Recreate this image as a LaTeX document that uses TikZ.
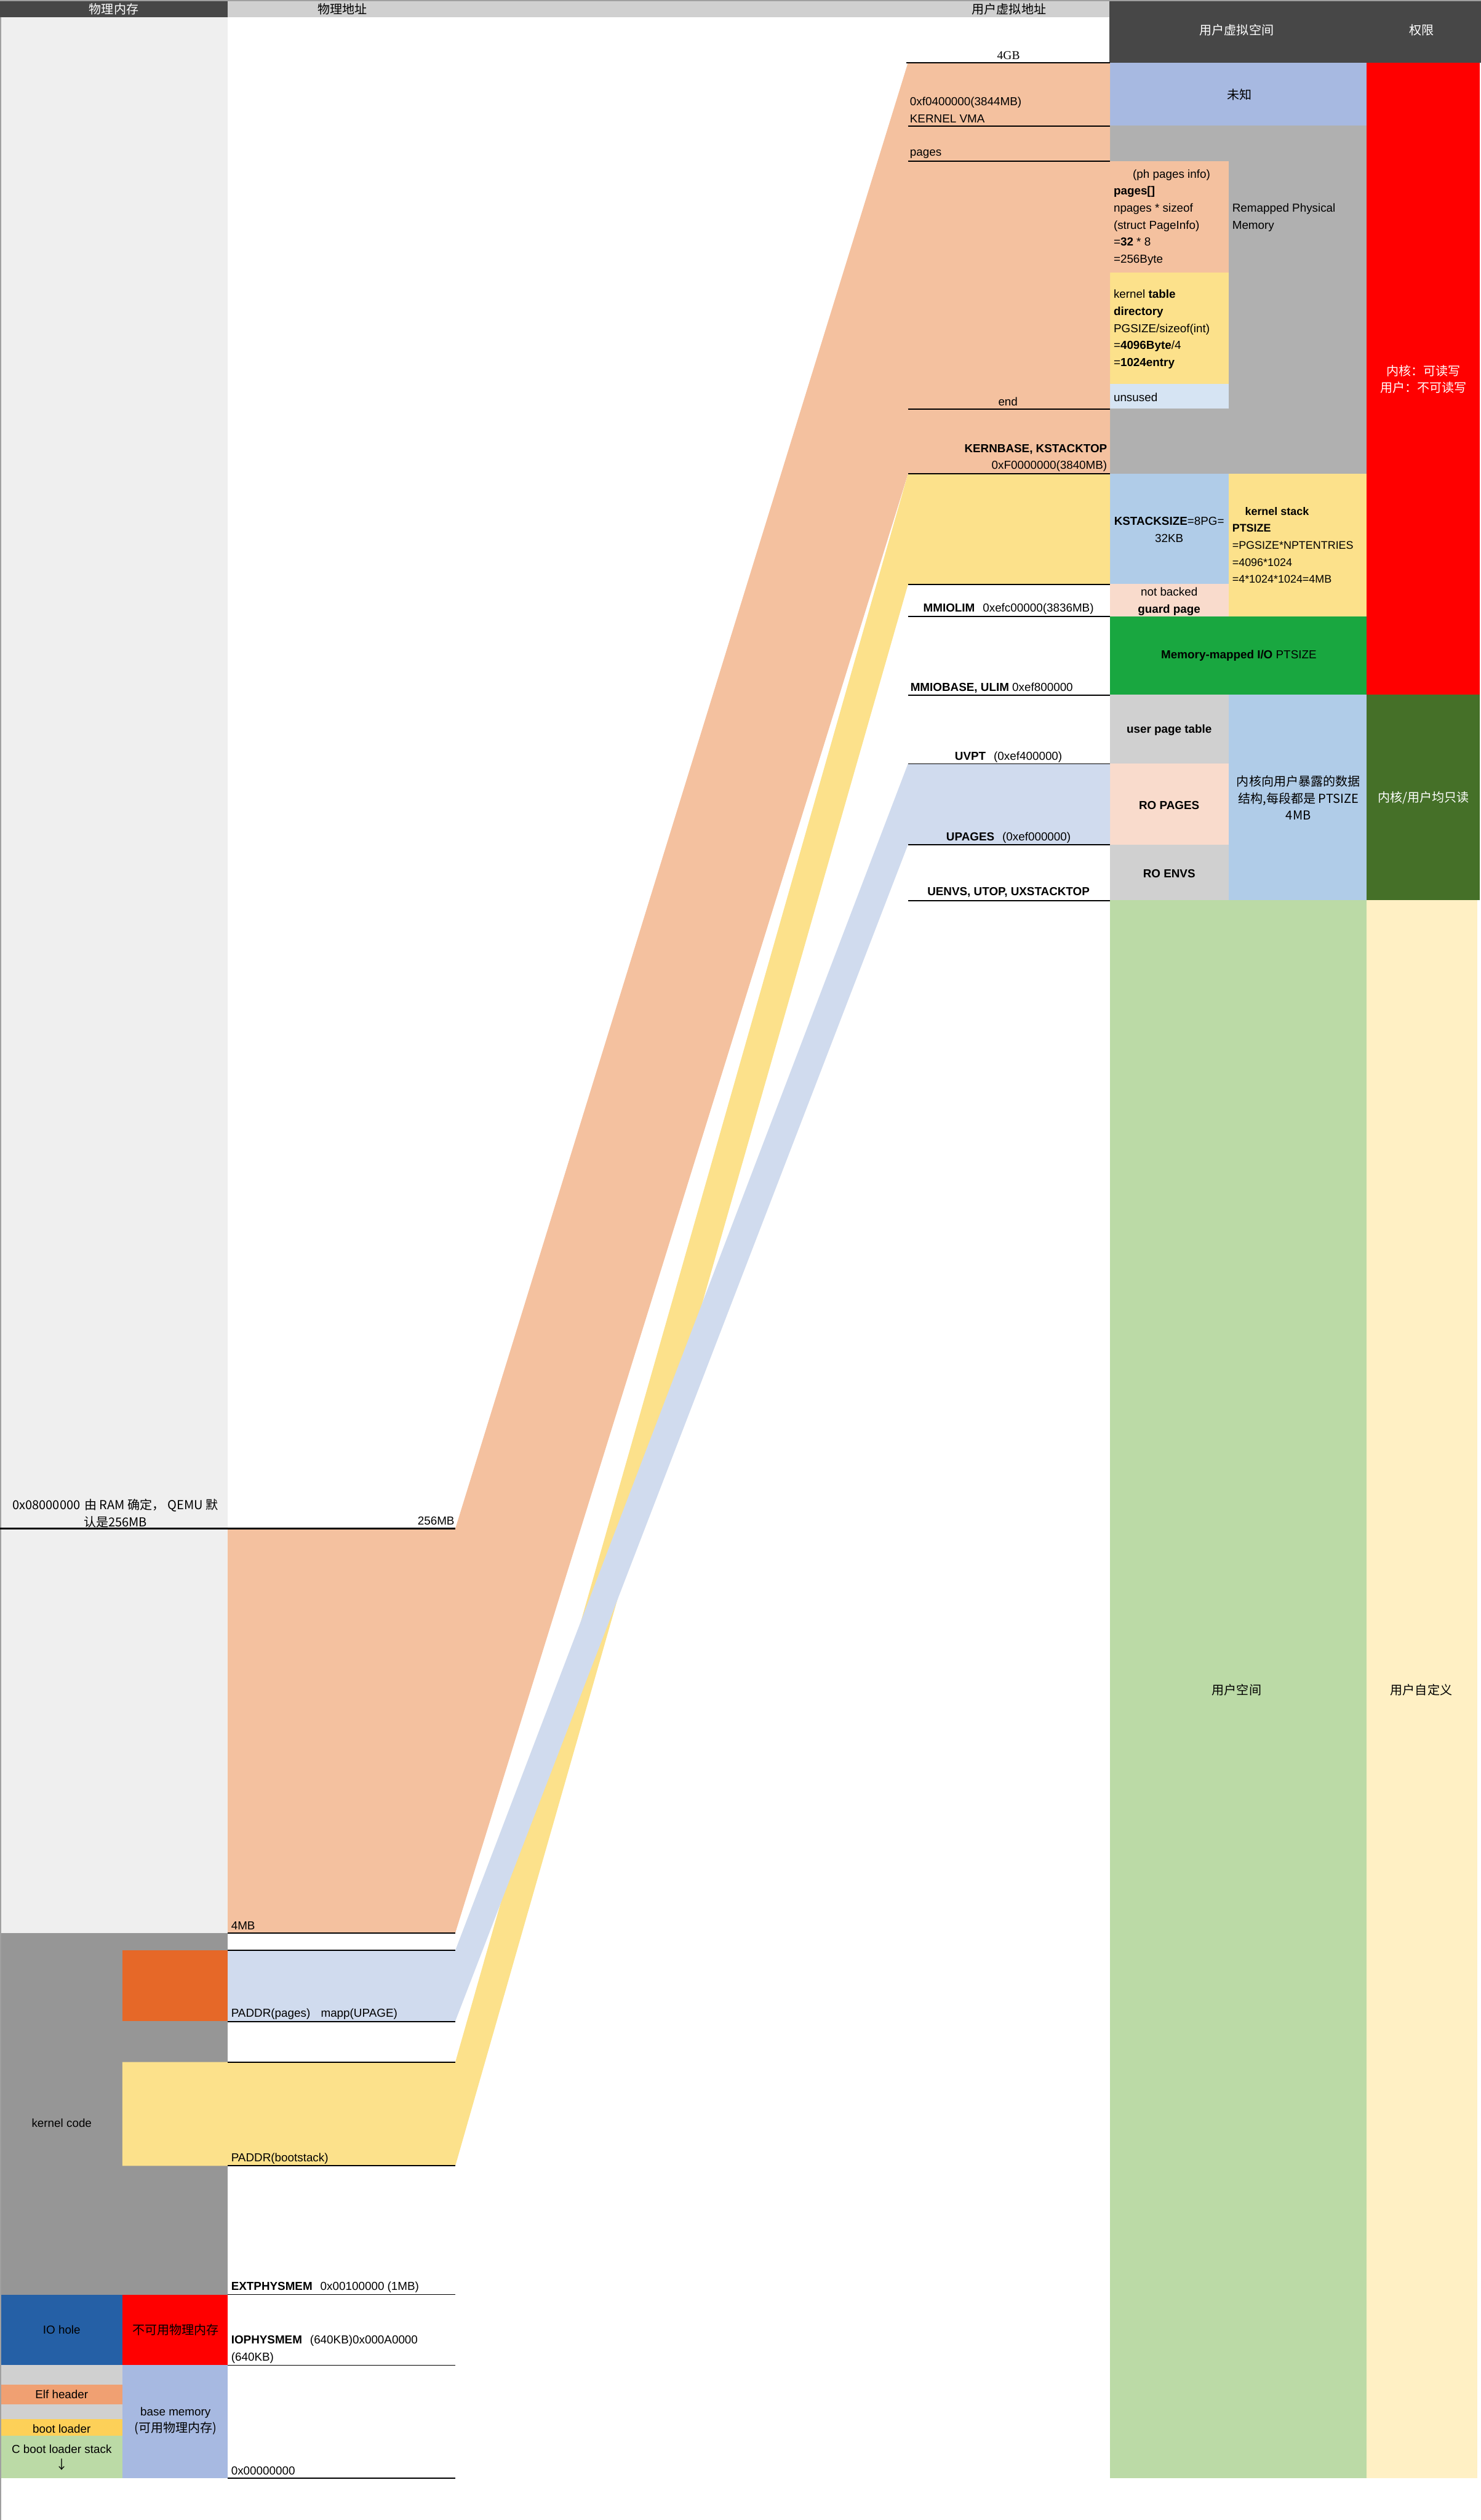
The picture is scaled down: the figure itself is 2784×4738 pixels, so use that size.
\documentclass[tikz,border=0pt]{standalone}
\usepackage{fontspec}
\setmainfont{Liberation Sans}
\newfontfamily\cjk{Noto Sans CJK SC}
\newfontfamily\serifnum{Liberation Serif}
\definecolor{peach}{RGB}{244,193,159}
\definecolor{ylw}{RGB}{252,225,139}
\definecolor{lblue}{RGB}{208,219,238}
\definecolor{kgray}{RGB}{150,150,150}
\definecolor{orng}{RGB}{230,104,40}
\definecolor{ioblue}{RGB}{37,96,166}
\definecolor{lgray}{RGB}{239,239,239}
\definecolor{hgray}{RGB}{208,208,208}
\definecolor{dgray}{RGB}{71,71,71}
\definecolor{unkblue}{RGB}{167,185,225}
\definecolor{rgray}{RGB}{176,176,176}
\definecolor{unusedblue}{RGB}{214,228,243}
\definecolor{kblue}{RGB}{176,204,232}
\definecolor{guard}{RGB}{249,219,204}
\definecolor{mmgreen}{RGB}{25,167,64}
\definecolor{dgreen}{RGB}{69,112,40}
\definecolor{ugreen}{RGB}{187,218,166}
\definecolor{uyellow}{RGB}{255,240,196}
\definecolor{elf}{RGB}{240,160,114}
\definecolor{boot}{RGB}{253,208,88}
\definecolor{basemem}{RGB}{167,185,225}
\definecolor{topgray}{RGB}{160,160,160}
\definecolor{pred}{RGB}{255,0,0}
\newcommand\zh{\cjk\fontsize{6.6pt}{9.2pt}\selectfont}
\tikzset{
  lbl/.style={inner sep=0pt, font=\fontsize{6.2pt}{9.1pt}\selectfont, text=black},
  bl/.style={lbl, align=left},
  cl/.style={lbl, align=center},
  rl/.style={lbl, align=right},
  mline/.style={line width=0.6pt, black},
  tline/.style={line width=0.9pt, black},
}
\begin{document}
\begin{tikzpicture}[x=0.01cm,y=-0.01cm]
\useasboundingbox (0,0) rectangle (2784,4738);
\fill[white] (0,0) rectangle (2784,4738);
% ---------- header ----------
\fill[topgray] (0,0) rectangle (2784,2);
\fill[dgray] (0,2) rectangle (428,32);
\fill[hgray] (428,2) rectangle (2085,32);
\fill[dgray] (2085,2) rectangle (2784,118);
\node[lbl,text=white] (h1) at (214,17) {\zh 物理内存};
\node[lbl] (h2) at (644,17) {\zh 物理地址};
\node[lbl] (h3) at (1897,17) {\zh 用户虚拟地址};
\node[lbl,text=white] (h4) at (2325,57) {\zh 用户虚拟空间};
\node[lbl,text=white] (h5) at (2673,57) {\zh 权限};
% ---------- left column ----------
\fill[lgray] (0,32) rectangle (428,3634);
\fill[kgray] (0,3634) rectangle (428,4314);
\fill[orng] (230,3667) rectangle (428,3800);
\fill[ioblue] (0,4314) rectangle (230,4446);
\fill[pred] (230,4314) rectangle (428,4446);
\fill[hgray] (0,4446) rectangle (230,4659);
\fill[elf] (0,4483) rectangle (230,4520);
\fill[boot] (0,4548) rectangle (230,4580);
\fill[ugreen] (0,4580) rectangle (230,4659);
\fill[basemem] (230,4446) rectangle (428,4659);
\fill[topgray] (0,32) rectangle (2,4738);
% ---------- virtual space column ----------
\fill[unkblue] (2087,118) rectangle (2569,236);
\fill[rgray] (2087,236) rectangle (2569,891);
\fill[peach] (2087,303) rectangle (2310,512);
\fill[ylw] (2087,512) rectangle (2310,722);
\fill[unusedblue] (2087,722) rectangle (2310,768);
\fill[pred] (2569,118) rectangle (2782,1306);
\fill[kblue] (2087,891) rectangle (2310,1098);
\fill[guard] (2087,1098) rectangle (2310,1159);
\fill[ylw] (2310,891) rectangle (2569,1159);
\fill[mmgreen] (2087,1159) rectangle (2569,1306);
\fill[hgray] (2087,1306) rectangle (2310,1436);
\fill[guard] (2087,1436) rectangle (2310,1588);
\fill[hgray] (2087,1588) rectangle (2310,1692);
\fill[kblue] (2310,1306) rectangle (2569,1692);
\fill[dgreen] (2569,1306) rectangle (2782,1692);
\fill[ugreen] (2087,1692) rectangle (2569,4659);
\fill[uyellow] (2569,1692) rectangle (2777,4659);
% ---------- mapping bands ----------
\fill[peach] (428,2874) -- (856,2874) -- (1707,118) -- (2087,118) -- (2087,891) -- (1707,891) -- (856,3634) -- (428,3634) -- cycle;
\fill[ylw] (230,3877) -- (856,3877) -- (1707,891) -- (2087,891) -- (2087,1099) -- (1707,1099) -- (856,4072) -- (230,4072) -- cycle;
\fill[lblue] (428,3667) -- (856,3667) -- (1707,1436) -- (2087,1436) -- (2087,1588) -- (1707,1588) -- (856,3800) -- (428,3800) -- cycle;
% ---------- physical address lines ----------
\draw[tline] (0,2874) -- (856,2874);
\foreach \yy in {3634,3667,3801,3877,4072,4314,4447,4659}
  \draw[mline] (428,\yy) -- (856,\yy);
% ---------- virtual address lines ----------
\draw[mline] (1704,118) -- (2087,118);
\foreach \yy in {237,303,769,891,1099,1159,1307,1436,1588,1693}
  \draw[mline] (1707,\yy) -- (2087,\yy);
% ---------- physical labels ----------
\node[cl] (ram) at (217,2845) {\zh 0x08000000\hspace{0.8mm}由 RAM 确定，\hspace{0.6mm}QEMU 默\\\zh 认是256MB};
\node[lbl,anchor=east] (p256) at (855,2859) {256MB};
\node[lbl,anchor=west] (p4) at (434,3621) {4MB};
\node[lbl,anchor=west] (ppages) at (434,3787) {PADDR(pages)\hspace{2mm}mapp(UPAGE)};
\node[lbl,anchor=west] (pboot) at (434,4058) {PADDR(bootstack)};
\node[lbl,anchor=west] (pext) at (434,4300) {\textbf{EXTPHYSMEM}\hspace{1.5mm}0x00100000 (1MB)};
\node[bl,anchor=west] (pio) at (434,4417) {\textbf{IOPHYSMEM}\hspace{1.5mm}(640KB)0x000A0000\\(640KB)};
\node[lbl,anchor=west] (pzero) at (434,4645) {0x00000000};
% ---------- left column labels ----------
\node[lbl] (kcode) at (116,3991) {kernel code};
\node[lbl] (iohole) at (116,4380) {IO hole};
\node[lbl] (nouse) at (330,4380) {\zh 不可用物理内存};
\node[lbl] (elfh) at (116,4502) {Elf header};
\node[lbl] (bootl) at (116,4566) {boot loader};
\node[lbl] (cstack) at (116,4605) {C boot loader stack};
\node[lbl] (carrow) at (116,4634) {\zh ↓};
\node[cl] (basem) at (330,4552) {base memory\\\zh (可用物理内存)};
% ---------- virtual address labels ----------
\node[lbl,font=\serifnum\fontsize{6.4pt}{8pt}\selectfont] (v4gb) at (1896,104) {4GB};
\node[bl,anchor=west] (vkvma) at (1710,207) {0xf0400000(3844MB)\\KERNEL VMA};
\node[lbl,anchor=west] (vpages) at (1710,290) {pages};
\node[lbl] (vend) at (1895,755) {end};
\node[rl,anchor=east] (vkern) at (2082,861) {\textbf{KERNBASE, KSTACKTOP}\\0xF0000000(3840MB)};
\node[lbl] (vmmiolim) at (1896,1145) {\textbf{MMIOLIM}\hspace{1.5mm}0xefc00000(3836MB)};
\node[lbl,anchor=west] (vmmiobase) at (1711,1293) {\textbf{MMIOBASE, ULIM} 0xef800000};
\node[lbl] (vuvpt) at (1896,1423) {\textbf{UVPT}\hspace{1.5mm}(0xef400000)};
\node[lbl] (vupages) at (1896,1575) {\textbf{UPAGES}\hspace{1.5mm}(0xef000000)};
\node[lbl] (vuenvs) at (1896,1678) {\textbf{UENVS, UTOP, UXSTACKTOP}};
% ---------- virtual space labels ----------
\node[lbl] (sunk) at (2330,178) {\zh 未知};
\node[bl,anchor=west] (sremap) at (2316,409) {Remapped Physical\\Memory};
\node[bl,anchor=west] (spages) at (2093,409) {\hspace*{3.6mm}(ph pages info)\\\textbf{pages[]}\\npages * sizeof\\(struct PageInfo)\\=\textbf{32} * 8\\=256Byte};
\node[bl,anchor=west] (sktab) at (2093,619) {kernel \textbf{table}\\\textbf{directory}\\PGSIZE/sizeof(int)\\=\textbf{4096Byte}/4\\=\textbf{1024entry}};
\node[lbl,anchor=west] (sunused) at (2093,747) {unsused};
\node[cl,text=white] (sperm1) at (2676,713) {\zh 内核：可读写\\\zh 用户：不可读写};
\node[cl] (skss) at (2198,996) {\textbf{KSTACKSIZE}=8PG=\\32KB};
\node[cl] (sguard) at (2198,1131) {not backed\\\textbf{guard page}};
\node[bl,anchor=west,font=\fontsize{5.9pt}{9.1pt}\selectfont] (skstack) at (2316,1025) {\hspace*{2.4mm}\textbf{kernel stack}\\\textbf{PTSIZE}\\=PGSIZE*NPTENTRIES\\=4096*1024\\=4*1024*1024=4MB};
\node[lbl] (smmio) at (2329,1233) {\textbf{Memory-mapped I/O} PTSIZE};
\node[lbl] (supt) at (2198,1373) {\textbf{user page table}};
\node[lbl] (sropages) at (2198,1514) {\textbf{RO PAGES}};
\node[lbl] (sroenvs) at (2198,1643) {\textbf{RO ENVS}};
\node[cl] (sexpose) at (2441,1500) {\zh 内核向用户暴露的数据\\\zh 结构,每段都是 PTSIZE\\\zh 4MB};
\node[lbl,text=white] (sperm2) at (2676,1500) {\zh 内核/用户均只读};
\node[lbl] (suser) at (2325,3177) {\zh 用户空间};
\node[lbl] (sudef) at (2672,3177) {\zh 用户自定义};
\end{tikzpicture}
\end{document}
